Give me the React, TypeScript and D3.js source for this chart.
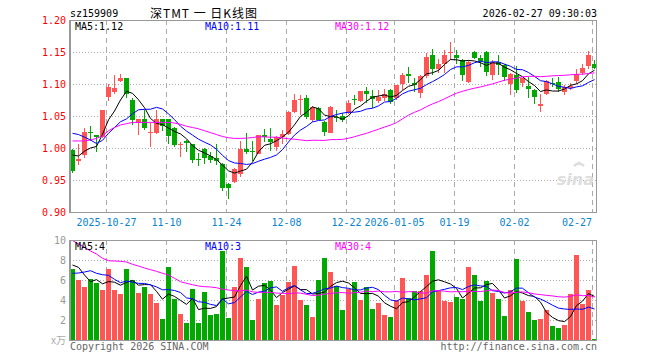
import React from "react";
import * as d3 from "d3";

// ---- data ----
const opens = [0.997,0.980,0.989,1.025,1.020,1.017,1.079,1.088,1.104,1.109,1.075,1.039,1.046,1.023,1.024,1.045,1.045,1.032,1.005,1.011,1.006,0.983,0.999,0.988,0.985,0.975,0.944,0.947,0.960,0.998,0.995,0.991,1.020,1.014,1.001,1.017,1.022,1.057,1.075,1.078,1.043,1.062,1.041,1.024,1.049,1.050,1.054,1.077,1.074,1.089,1.081,1.074,1.078,1.091,1.078,1.100,1.115,1.102,1.086,1.113,1.145,1.123,1.131,1.149,1.145,1.138,1.103,1.150,1.141,1.150,1.114,1.134,1.130,1.100,1.114,1.101,1.097,1.091,1.065,1.084,1.102,1.103,1.088,1.093,1.104,1.117,1.128,1.131];
const highs = [0.998,1.006,1.031,1.034,1.021,1.060,1.100,1.114,1.116,1.110,1.078,1.046,1.059,1.039,1.060,1.046,1.046,1.033,1.010,1.012,1.007,0.992,1.000,0.994,1.006,0.976,0.946,0.969,1.011,1.023,1.011,1.021,1.029,1.031,1.018,1.028,1.058,1.084,1.083,1.083,1.065,1.064,1.042,1.065,1.059,1.055,1.075,1.083,1.089,1.096,1.091,1.090,1.092,1.092,1.099,1.117,1.127,1.110,1.114,1.149,1.155,1.139,1.153,1.166,1.153,1.139,1.138,1.151,1.145,1.151,1.138,1.145,1.132,1.117,1.128,1.110,1.111,1.092,1.085,1.106,1.109,1.111,1.098,1.101,1.123,1.132,1.152,1.138];
const lows = [0.961,0.973,0.985,1.011,0.994,1.016,1.074,1.085,1.103,1.078,1.036,1.020,1.028,1.001,1.022,1.027,1.006,1.001,0.986,0.994,0.976,0.972,0.975,0.976,0.973,0.933,0.920,0.945,0.955,0.991,0.979,0.990,1.010,0.996,0.995,1.007,1.021,1.054,1.052,1.046,1.041,1.043,1.019,1.023,1.041,1.040,1.053,1.067,1.072,1.071,1.063,1.070,1.074,1.068,1.075,1.091,1.101,1.087,1.078,1.110,1.114,1.117,1.117,1.137,1.132,1.105,1.101,1.139,1.127,1.113,1.107,1.114,1.105,1.083,1.086,1.096,1.078,1.069,1.057,1.083,1.096,1.088,1.083,1.091,1.100,1.114,1.124,1.123];
const closes = [0.964,0.983,1.025,1.023,1.017,1.059,1.096,1.094,1.109,1.085,1.043,1.046,1.032,1.025,1.046,1.034,1.019,1.005,1.006,1.008,0.981,0.982,0.985,0.982,0.979,0.938,0.938,0.967,0.998,0.993,0.993,1.020,1.017,1.010,1.017,1.022,1.057,1.075,1.076,1.049,1.064,1.043,1.025,1.064,1.048,1.044,1.071,1.076,1.089,1.085,1.076,1.080,1.085,1.072,1.098,1.114,1.113,1.098,1.112,1.142,1.123,1.131,1.145,1.150,1.140,1.114,1.135,1.141,1.136,1.119,1.135,1.130,1.111,1.116,1.091,1.109,1.092,1.080,1.069,1.104,1.100,1.092,1.096,1.097,1.116,1.125,1.145,1.125];
const volumes = [7.1,6.0,5.3,6.1,5.7,5.0,7.1,5.0,4.6,7.1,6.0,4.7,5.3,4.6,3.7,2.1,7.3,4.1,2.6,1.7,5.1,1.7,4.8,2.5,2.6,8.9,2.2,5.3,8.2,7.3,2.0,4.1,5.7,5.9,3.5,4.5,5.8,7.4,4.0,3.5,2.3,6.0,8.2,6.8,5.4,3.0,5.1,5.8,4.0,5.3,3.1,3.7,2.5,2.3,4.0,6.2,4.2,4.9,4.9,6.5,8.9,4.9,3.9,3.8,4.3,4.1,7.3,6.5,3.9,5.9,4.7,4.1,2.4,5.0,8.1,3.9,2.8,2.0,2.1,3.0,1.4,1.2,1.5,4.6,8.5,3.6,5.0,0.1];

// moving-average values before the window is full (history off the chart)
const ma5Lead = [0.989,0.9875,0.995,1.000];
const ma10Lead = [1.023,1.021,1.017,1.0125,1.007,1.012,1.023,1.032,1.041];
const ma30Lead = [1.011,1.011,1.011,1.0125,1.015,1.019,1.027,1.032,1.036,1.038,1.040,1.040,1.040,1.040,1.040,1.040,1.040,1.039,1.037,1.034,1.032,1.030,1.027,1.024,1.021,1.018,1.016,1.015,1.015];
const vma5Lead = [7.5,7.27,6.5,5.83];
const vma10Lead = [6.67,6.7,6.8,6.93,6.67,6.53,6.47,6.07,5.73];
const vma30Lead = [9.95,9.6,9.27,8.9,8.6,8.17,7.93,7.9,7.87,7.8,7.57,7.4,7.2,7.03,6.87,6.67,6.5,6.17,5.83,5.67,5.53,5.4,5.33,5.3,5.23,5.07,5.0,4.93,4.9];

const dateLabels = ["2025-10-27","11-10","11-24","12-08","12-22","2026-01-05","01-19","02-02","02-27"];
const dateIndex = [6,16,26,36,46,54,64,74,87];
const priceTicks = [1.20,1.15,1.10,1.05,1.00,0.95,0.90];
const volTicks = [10,8,6,4,2];
const priceMaLabels = ["MA5:1.12","MA10:1.11","MA30:1.12"];
const volMaLabels = ["MA5:4","MA10:3","MA30:4"];

const RED = "#ff5555";
const GREEN = "#00a800";
const MA_COLORS = ["#000000","#0000ff","#ff00ff"];
const MONO = "'DejaVu Sans Mono', 'Liberation Mono', monospace";

function movingAverage(vals: number[], n: number, lead: number[]) {
  return vals.map((_, i) => (i < n - 1 ? lead[i] : (d3.mean(vals.slice(i - n + 1, i + 1)) as number)));
}

export default function App() {
  const N = closes.length;
  const L = 70, R = 597;
  const x = d3.scaleLinear().domain([0, N]).range([L, L + 6 * N]);
  const y = d3.scaleLinear().domain([0.9, 1.2]).range([212, 20]);
  const yv = d3.scaleLinear().domain([0, 10]).range([340, 240]);
  const cw = 5;

  const pMAs = [movingAverage(closes, 5, ma5Lead), movingAverage(closes, 10, ma10Lead), movingAverage(closes, 30, ma30Lead)];
  const vMAs = [movingAverage(volumes, 5, vma5Lead), movingAverage(volumes, 10, vma10Lead), movingAverage(volumes, 30, vma30Lead)];

  const lineP = d3.line<number>().x((_, i) => x(i) + 2.5).y((d) => y(d));
  const lineV = d3.line<number>().x((_, i) => x(i) + 2.5).y((d) => yv(d));

  const maLabelX = [75, 205, 335];

  return (
    <svg width={660} height={360} style={{ position: "absolute", left: 0, top: 0, background: "#fff" }}>
      <rect x={0} y={0} width={660} height={360} fill="#fff" />
      {/* header */}
      <text x={70} y={16.5} fontFamily={MONO} fontSize={10} fill="#000">sz159909</text>
      <text x={150} y={18} fontFamily="'Noto Sans CJK SC', sans-serif" fontSize={12} fill="#000" textLength={107} lengthAdjust="spacing">深TMT 一 日K线图</text>
      <text x={597} y={16.5} fontFamily={MONO} fontSize={10} fill="#000" textAnchor="end">2026-02-27 09:30:03</text>

      {/* price grid */}
      {priceTicks.slice(1, -1).map((t) => (
        <line key={"hg" + t} x1={L} x2={R} y1={Math.round(y(t)) + 0.5} y2={Math.round(y(t)) + 0.5} stroke="#aaa" strokeDasharray="1,2" />
      ))}
      {dateIndex.map((di) => (
        <line key={"vg" + di} x1={x(di) + 0.5} x2={x(di) + 0.5} y1={20} y2={212} stroke="#aaa" strokeDasharray="5,4" />
      ))}
      {/* volume grid */}
      {volTicks.slice(1).map((t) => (
        <line key={"vh" + t} x1={L} x2={R} y1={yv(t) + 0.5} y2={yv(t) + 0.5} stroke="#aaa" strokeDasharray="1,2" />
      ))}
      {dateIndex.map((di) => (
        <line key={"vv" + di} x1={x(di) + 0.5} x2={x(di) + 0.5} y1={240} y2={340} stroke="#aaa" strokeDasharray="5,4" />
      ))}

      {/* watermark */}
      <text x={594} y={185} fontFamily="'DejaVu Sans', sans-serif" fontSize={16} fontWeight="bold" fontStyle="italic" fill="#dddddd" textAnchor="end">sina</text>
      <path d="M574,166 q5,-5 10,0" stroke="#dddddd" strokeWidth={2.5} fill="none" />
      <circle cx={579} cy={163} r={1.5} fill="#dddddd" />

      {/* candles */}
      {closes.map((c, i) => {
        const o = opens[i];
        const up = c >= o;
        const col = up ? RED : GREEN;
        const top = Math.round(y(Math.max(o, c)));
        const bot = Math.round(y(Math.min(o, c)));
        const cx = Math.round(x(i)) + 2;
        return (
          <g key={"c" + i}>
            <rect x={cx} y={Math.round(y(highs[i]))} width={1} height={Math.max(1, Math.round(y(lows[i])) - Math.round(y(highs[i])))} fill={col} />
            <rect x={Math.round(x(i))} y={top} width={cw} height={Math.max(1, bot - top)} fill={col} />
          </g>
        );
      })}
      {pMAs.map((m, k) => (
        <path key={"pm" + k} d={lineP(m) || ""} fill="none" stroke={MA_COLORS[k]} strokeWidth={1} />
      ))}

      {/* volume bars */}
      {volumes.map((v, i) => (
        <rect key={"v" + i} x={x(i)} y={yv(v)} width={cw} height={340 - yv(v)} fill={closes[i] >= opens[i] ? RED : GREEN} />
      ))}
      {vMAs.map((m, k) => (
        <path key={"vm" + k} d={lineV(m) || ""} fill="none" stroke={MA_COLORS[k]} strokeWidth={1} />
      ))}

      {/* frames */}
      <rect x={70.5} y={20.5} width={526} height={192} fill="none" stroke="#999" />
      <rect x={70.5} y={240.5} width={526} height={100} fill="none" stroke="#999" />
      <line x1={70} x2={70} y1={20} y2={213} stroke="#999" strokeWidth={2} />
      <line x1={70} x2={70} y1={240} y2={341} stroke="#999" strokeWidth={2} />

      {/* MA labels */}
      {priceMaLabels.map((t, k) => (
        <text key={"pl" + k} x={maLabelX[k]} y={29.5} fontFamily={MONO} fontSize={10} fill={MA_COLORS[k]}>{t}</text>
      ))}
      {volMaLabels.map((t, k) => (
        <text key={"vl" + k} x={maLabelX[k]} y={250} fontFamily={MONO} fontSize={10} fill={MA_COLORS[k]}>{t}</text>
      ))}

      {/* price axis labels */}
      {priceTicks.map((t) => (
        <text key={"pt" + t} x={66} y={y(t) + 4} fontFamily={MONO} fontSize={10} fill="#f00" textAnchor="end">{t.toFixed(2)}</text>
      ))}
      {/* date labels */}
      {dateLabels.map((t, k) => {
        const last = k === dateLabels.length - 1;
        return (
          <text key={"dl" + k} x={last ? x(dateIndex[k]) : x(dateIndex[k]) + 0.5} y={225.5} fontFamily={MONO} fontSize={10} fill="#0a84d0" textAnchor={last ? "end" : "middle"}>{t}</text>
        );
      })}
      {/* volume axis labels */}
      {volTicks.map((t) => (
        <text key={"vt" + t} x={66} y={yv(t) + 4} fontFamily={MONO} fontSize={10} fill="#999" textAnchor="end">{t}</text>
      ))}
      <text x={66} y={344} fontFamily="'Noto Sans CJK SC', sans-serif" fontSize={10} fill="#aaa" textAnchor="end">x万</text>

      {/* footer */}
      <text x={70} y={350} fontFamily={MONO} fontSize={10} fill="#666">Copyright 2026 SINA.COM</text>
      <text x={597} y={350} fontFamily={MONO} fontSize={10} fill="#666" textAnchor="end">http://finance.sina.com.cn</text>
    </svg>
  );
}
